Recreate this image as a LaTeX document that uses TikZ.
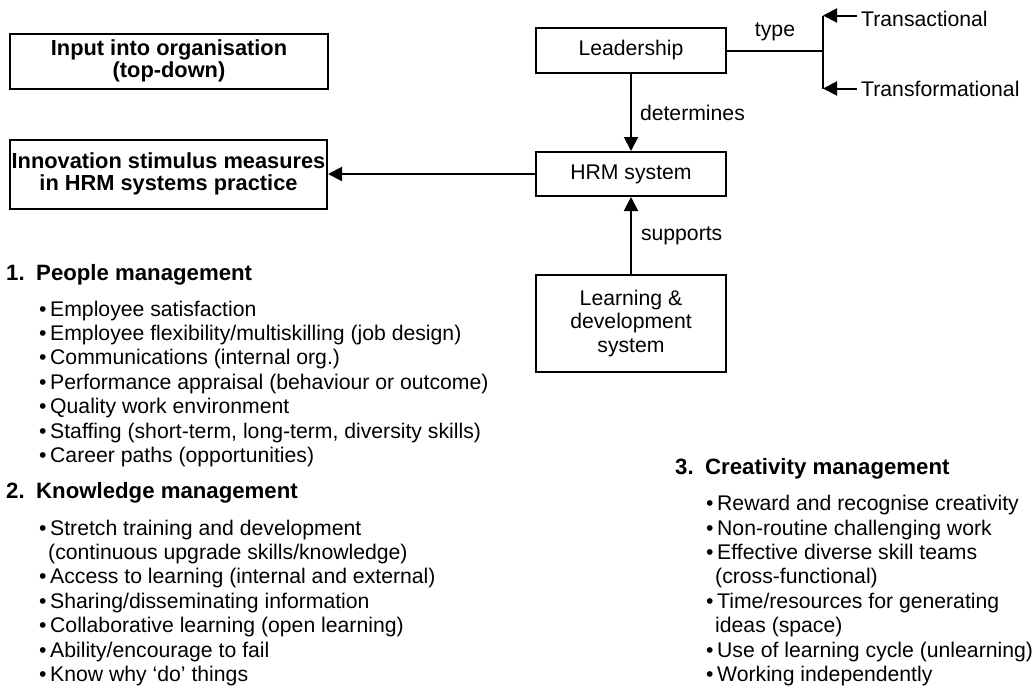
\documentclass[tikz,border=0pt]{standalone}
\usepackage{fontspec}
\setmainfont{Liberation Sans}
\usetikzlibrary{arrows.meta}
\newcommand\fsz{\fontsize{21.2}{24.4}\selectfont}
\newcommand\fsb{\fontsize{21.8}{24.4}\selectfont\bfseries}
\newcommand\fsh{\fontsize{22.2}{24.4}\selectfont\bfseries}
\newcommand\bul{\makebox[11pt][l]{•}}
\newcommand\cnt{\hspace*{9pt}}
\begin{document}
\begin{tikzpicture}[x=1pt,y=-1pt,
  boxn/.style={draw, line width=2pt, inner sep=0pt, align=center, font=\fsz},
  conn/.style={line width=2pt},
  arr/.style={conn, -{Triangle[length=14pt,width=14pt]}},
  lbl/.style={font=\fsz, inner sep=0pt},
  txt/.style={font=\fsz, inner sep=0pt, anchor=base west},
  hd/.style={font=\fsh, inner sep=0pt, anchor=base west}]
\path[use as bounding box] (0,0) rectangle (1035,686);

% boxes
\node[boxn, font=\fsb, minimum width=318pt, minimum height=55pt] (input) at (169,61) {Input into organisation\\[-2pt](top-down)};
\node[boxn, font=\fsb, minimum width=317pt, minimum height=69pt] (innov) at (168.5,174) {Innovation stimulus measures\\[-2pt]in HRM systems practice};
\node[boxn, minimum width=190pt, minimum height=45pt] (lead) at (631,50.5) {Leadership};
\node[boxn, minimum width=190pt, minimum height=44pt] (hrm) at (631,174) {HRM system};
\node[boxn, minimum width=190pt, minimum height=97pt] (ld) at (631,323.5) {Learning \&\\[-1pt]development\\[-1pt]system};

% connectors
\draw[arr] (lead) -- node[lbl, right=8pt] (det) {determines} (hrm);
\draw[arr] (ld) -- node[lbl, right=9pt] (sup) {supports} (hrm);
\draw[arr] (hrm.west) -- (innov.east);

% type bracket
\coordinate (bm) at (823,50.5);
\coordinate (bt) at (823,15.5);
\coordinate (bb) at (823,88.5);
\draw[conn] (lead.east) -- node[lbl, above=9pt] (type) {type} (bm);
\draw[conn] (bt) -- (bb);
\node[lbl, anchor=west, inner xsep=4pt] (tact) at (857,19) {Transactional};
\node[lbl, anchor=west, inner xsep=4pt] (tform) at (857,89) {Transformational};
\draw[arr] (tact.west |- bt) -- (bt);
\draw[arr] (tform.west |- bb) -- (bb);

% section 1
\node[hd] (h1) at (6,280) {\makebox[30pt][l]{1.}People management};
\node[txt] (a1) at (39,316) {\bul Employee satisfaction};
\node[txt] (a2) at (39,340.4) {\bul Employee flexibility/multiskilling (job design)};
\node[txt] (a3) at (39,364.8) {\bul Communications (internal org.)};
\node[txt] (a4) at (39,389.2) {\bul Performance appraisal (behaviour or outcome)};
\node[txt] (a5) at (39,413.6) {\bul Quality work environment};
\node[txt] (a6) at (39,438) {\bul Staffing (short-term, long-term, diversity skills)};
\node[txt] (a7) at (39,462.4) {\bul Career paths (opportunities)};

% section 2
\node[hd] (h2) at (6,498) {\makebox[30pt][l]{2.}Knowledge management};
\node[txt] (b1) at (39,535) {\bul Stretch training and development};
\node[txt] (b2) at (39,559.4) {\cnt(continuous upgrade skills/knowledge)};
\node[txt] (b3) at (39,583.8) {\bul Access to learning (internal and external)};
\node[txt] (b4) at (39,608.2) {\bul Sharing/disseminating information};
\node[txt] (b5) at (39,632.6) {\bul Collaborative learning (open learning)};
\node[txt] (b6) at (39,657) {\bul Ability/encourage to fail};
\node[txt] (b7) at (39,681.4) {\bul Know why ‘do’ things};

% section 3
\node[hd] (h3) at (675,474) {\makebox[30pt][l]{3.}Creativity management};
\node[txt] (c1) at (706,510.6) {\bul Reward and recognise creativity};
\node[txt] (c2) at (706,535) {\bul Non-routine challenging work};
\node[txt] (c3) at (706,559.4) {\bul Effective diverse skill teams};
\node[txt] (c4) at (706,583.8) {\cnt(cross-functional)};
\node[txt] (c5) at (706,608.2) {\bul Time/resources for generating};
\node[txt] (c6) at (706,632.6) {\cnt ideas (space)};
\node[txt] (c7) at (706,657) {\bul Use of learning cycle (unlearning)};
\node[txt] (c8) at (706,681.4) {\bul Working independently};
\end{tikzpicture}
\end{document}
